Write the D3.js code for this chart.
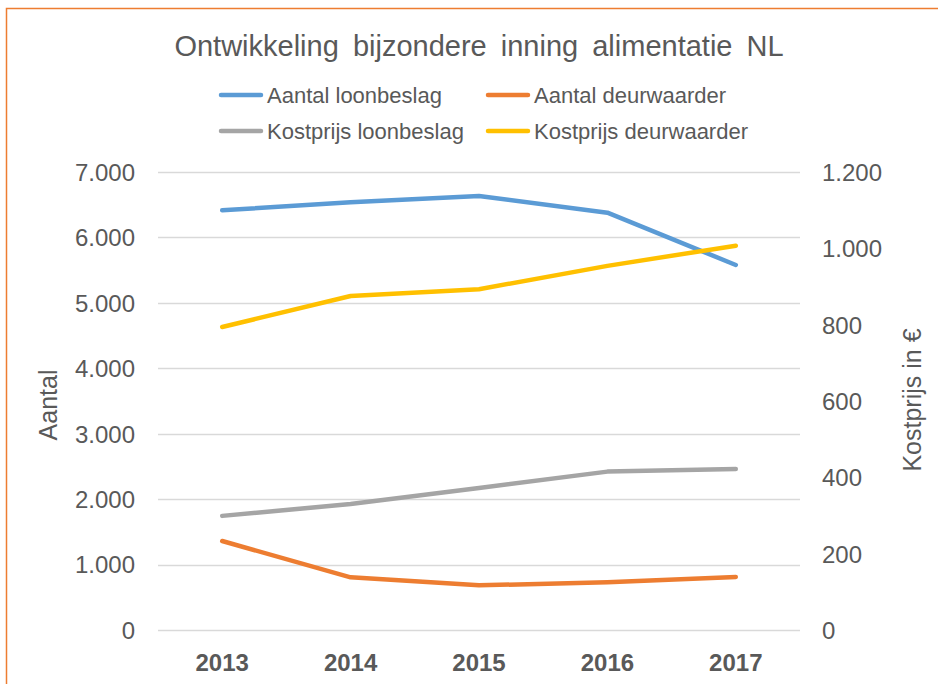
<!DOCTYPE html>
<html>
<head>
<meta charset="utf-8">
<script src="https://cdn.jsdelivr.net/npm/d3@7"></script>
<style>
  body { margin: 0; background: #fff; }
  svg { display: block; font-family: "Liberation Sans", Arial, sans-serif; }
</style>
</head>
<body>
<svg id="chart" width="938" height="684"></svg>
<script>
"use strict";
var years = ["2013", "2014", "2015", "2016", "2017"];
var aantalLoonbeslag = [6415, 6537, 6633, 6378, 5579];
var aantalDeurwaarder = [1360, 805, 683, 729, 810];
var kostprijsLoonbeslag = [299, 330, 372, 415, 422];
var kostprijsDeurwaarder = [794, 875, 893, 954, 1007];
var leftTicks = [0, 1000, 2000, 3000, 4000, 5000, 6000, 7000];
var rightTicks = [0, 200, 400, 600, 800, 1000, 1200];

var series = [
    { name: "Aantal loonbeslag", values: aantalLoonbeslag, axis: "left", color: "#5B9BD5" },
    { name: "Aantal deurwaarder", values: aantalDeurwaarder, axis: "left", color: "#ED7D31" },
    { name: "Kostprijs loonbeslag", values: kostprijsLoonbeslag, axis: "right", color: "#A5A5A5" },
    { name: "Kostprijs deurwaarder", values: kostprijsDeurwaarder, axis: "right", color: "#FFC000" }
];

var svg = d3.select("#chart");
var margin = { left: 158, right: 800, top: 172, bottom: 630 };
var textColor = "#595959";
var fmt = function (d) { return d3.format(",")(d).replace(/,/g, "."); };

// border
svg.append("rect")
    .attr("x", 6.5).attr("y", 8.5)
    .attr("width", 1000).attr("height", 1000)
    .attr("fill", "none")
    .attr("stroke", "#ED7D31")
    .attr("stroke-width", 1.5);

var x = d3.scaleBand().domain(years).range([margin.left, margin.right]);
var yLeft = d3.scaleLinear().domain([0, 7000]).range([margin.bottom, margin.top]);
var yRight = d3.scaleLinear().domain([0, 1200]).range([margin.bottom, margin.top]);

// gridlines
svg.append("g").selectAll("line")
    .data(leftTicks)
  .enter().append("line")
    .attr("x1", margin.left).attr("x2", margin.right)
    .attr("y1", function (d) { return Math.round(yLeft(d)) + 0.5; })
    .attr("y2", function (d) { return Math.round(yLeft(d)) + 0.5; })
    .attr("stroke", "#D9D9D9")
    .attr("stroke-width", 1.3);

// left axis
var leftAxis = svg.append("g")
    .attr("transform", "translate(" + (margin.left - 23) + ",0)")
    .call(d3.axisLeft(yLeft).tickValues(leftTicks).tickFormat(fmt).tickSize(0).tickPadding(0));
leftAxis.select(".domain").remove();
leftAxis.selectAll("text")
    .attr("fill", textColor)
    .style("font-size", "24px")
    .attr("dy", "0.35em");

// right axis
var rightAxis = svg.append("g")
    .attr("transform", "translate(" + (margin.right + 22) + ",0)")
    .call(d3.axisRight(yRight).tickValues(rightTicks).tickFormat(fmt).tickSize(0).tickPadding(0));
rightAxis.select(".domain").remove();
rightAxis.selectAll("text")
    .attr("fill", textColor)
    .style("font-size", "24px")
    .attr("dy", "0.35em");

// x axis
var xAxis = svg.append("g")
    .attr("transform", "translate(0," + (margin.bottom + 24) + ")")
    .call(d3.axisBottom(x).tickSize(0).tickPadding(0));
xAxis.select(".domain").remove();
xAxis.selectAll("text")
    .attr("fill", textColor)
    .style("font-size", "24px")
    .style("font-weight", "bold")
    .attr("dy", "0.71em");

// axis titles
svg.append("text")
    .attr("transform", "translate(57,405) rotate(-90)")
    .attr("text-anchor", "middle")
    .attr("fill", textColor)
    .style("font-size", "25px")
    .text("Aantal");
svg.append("text")
    .attr("transform", "translate(921,400) rotate(-90)")
    .attr("text-anchor", "middle")
    .attr("fill", textColor)
    .style("font-size", "25px")
    .text("Kostprijs in €");

// title
svg.append("text")
    .attr("x", 479).attr("y", 56)
    .attr("text-anchor", "middle")
    .attr("fill", textColor)
    .style("font-size", "29px")
    .style("word-spacing", "6px")
    .text("Ontwikkeling bijzondere inning alimentatie NL");

// lines
var cx = function (i) { return x(years[i]) + x.bandwidth() / 2; };
series.forEach(function (s) {
    var y = s.axis === "left" ? yLeft : yRight;
    var line = d3.line()
        .x(function (d, i) { return cx(i); })
        .y(function (d) { return y(d); });
    svg.append("path")
        .datum(s.values)
        .attr("d", line)
        .attr("fill", "none")
        .attr("stroke", s.color)
        .attr("stroke-width", 4.5)
        .attr("stroke-linecap", "round")
        .attr("stroke-linejoin", "round");
});

// legend
var legendPos = [[221, 95], [488, 95], [221, 131], [488, 131]];
var legend = svg.append("g").selectAll("g")
    .data(series)
  .enter().append("g")
    .attr("transform", function (d, i) { return "translate(" + legendPos[i][0] + "," + legendPos[i][1] + ")"; });
legend.append("line")
    .attr("x1", 0).attr("x2", 40)
    .attr("stroke", function (d) { return d.color; })
    .attr("stroke-width", 4.5)
    .attr("stroke-linecap", "round");
legend.append("text")
    .attr("x", 46)
    .attr("dy", "0.35em")
    .attr("fill", textColor)
    .style("font-size", "22px")
    .text(function (d) { return d.name; });
</script>
</body>
</html>
